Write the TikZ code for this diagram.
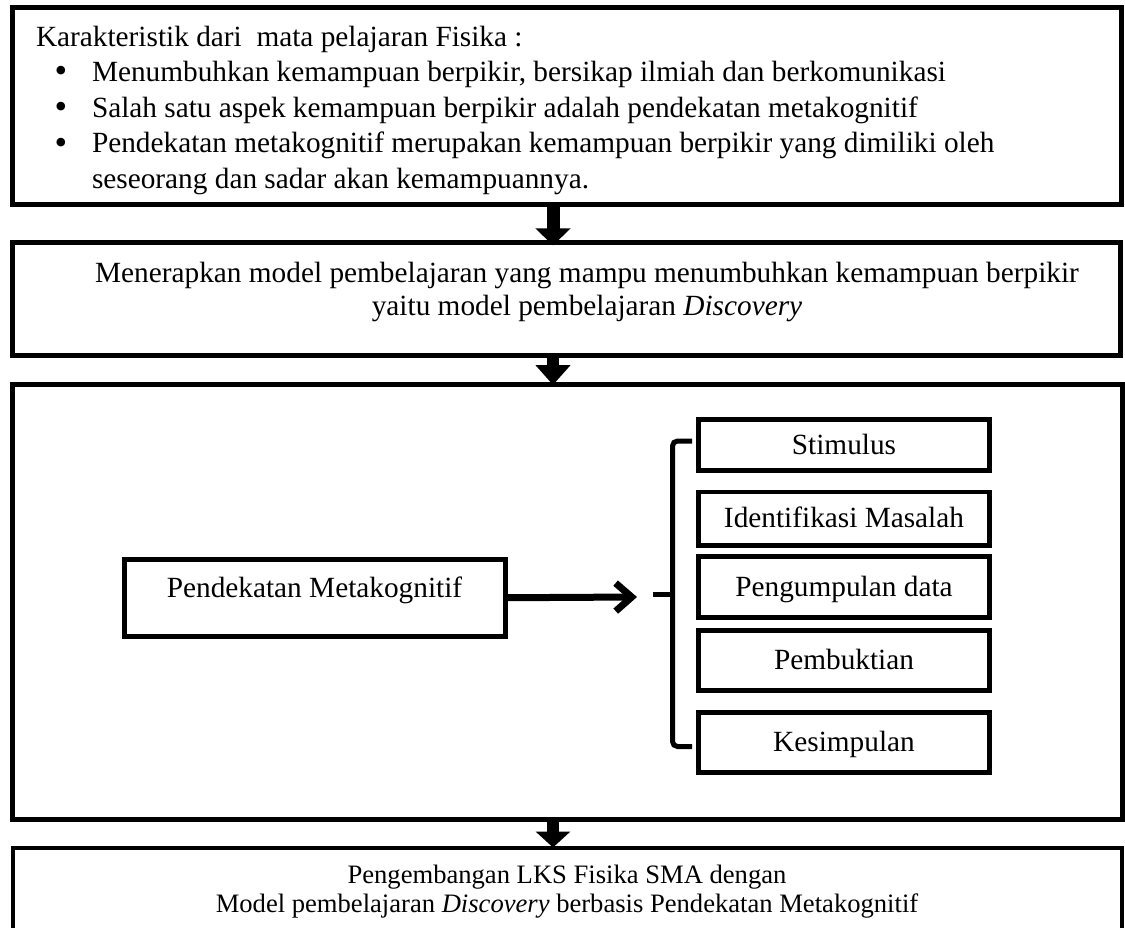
\documentclass[tikz,border=0pt]{standalone}
\usepackage{fontspec}
\setmainfont{Liberation Serif}
\usetikzlibrary{arrows.meta}
\begin{document}
\begin{tikzpicture}[x=1pt,y=-1pt,
  box/.style={draw, line width=5pt, rectangle, inner sep=0pt, outer sep=0pt},
  smallbox/.style={draw, line width=4.5pt, rectangle, minimum width=291pt, inner sep=0pt, outer sep=0pt, text height=20pt, text depth=2pt},
  txt/.style={inner sep=0pt, outer sep=0pt},
  bul/.style={inner sep=0pt, outer sep=0pt, anchor=base, text height=14pt, text depth=0pt, font=\fontsize{36}{36}\selectfont},
  flow/.style={line width=13pt, -{Triangle[width=34pt,length=17pt]}},
  bigfont/.style={font=\fontsize{29.3}{33}\selectfont},
  smallfont/.style={font=\fontsize{26.6}{30}\selectfont},
  bigfont]
\useasboundingbox (0,0) rectangle (1125,928);
\clip (0,0) rectangle (1125,928);

% main boxes
\node[box, minimum width=1108.5pt, minimum height=197.5pt] (b1) at (566.75,106.25) {};
\node[box, minimum width=1107.5pt, minimum height=113pt] (b2) at (566.25,299) {};
\node[box, minimum width=1109.5pt, minimum height=435.5pt] (b3) at (567.25,601.75) {};
\node[box, line width=4pt, minimum width=1109.5pt, minimum height=87.5pt] (b4) at (567.25,891.25) {};

% box 1 text
\node[txt, anchor=base west] (t0) at (36,47) {Karakteristik dari\ \ mata pelajaran Fisika :};
\node[bul] (u1) at (61,83) {•};
\node[bul] (u2) at (61,119) {•};
\node[bul] (u3) at (61,155) {•};
\node[txt, anchor=base west] (t1) at (92,82) {Menumbuhkan kemampuan berpikir, bersikap ilmiah dan berkomunikasi};
\node[txt, anchor=base west] (t2) at (92,118) {Salah satu aspek kemampuan berpikir adalah pendekatan metakognitif};
\node[txt, anchor=base west] (t3) at (92,153) {Pendekatan metakognitif merupakan kemampuan berpikir yang dimiliki oleh};
\node[txt, anchor=base west] (t4) at (92,189) {seseorang dan sadar akan kemampuannya.};

% box 2 text
\node[txt, anchor=base] (m1) at (587,283) {Menerapkan model pembelajaran yang mampu menumbuhkan kemampuan berpikir};
\node[txt, anchor=base] (m2) at (587,315) {yaitu model pembelajaran \textit{Discovery}};

% box 3 content
\node[box, minimum width=381pt, minimum height=76.5pt, text height=20pt, text depth=21.5pt] (pk) at (314.5,597.75) {Pendekatan Metakognitif};
\node[smallbox, minimum height=51pt] (s1) at (844,445) {Stimulus};
\node[smallbox, minimum height=53.5pt] (s2) at (844,518.75) {Identifikasi Masalah};
\node[smallbox, minimum height=61pt] (s3) at (844,587) {Pengumpulan data};
\node[smallbox, minimum height=60pt] (s4) at (844,660.5) {Pembuktian};
\node[smallbox, minimum height=60pt] (s5) at (844,742.5) {Kesimpulan};

\coordinate (tip) at (637,597);
\coordinate (brTop) at (692,441);
\coordinate (brBot) at (692,746.5);
\coordinate (brMid) at (672.5,594.5);
\coordinate (brTick) at (653,594.5);

\draw[line width=7pt, -{Straight Barb[length=16pt,width=28pt]}] (pk.east) -- (tip);
\draw[line width=5pt, rounded corners=5pt] (brTop) -- (brMid |- brTop) -- (brMid |- brBot) -- (brBot);
\draw[line width=5pt] (brTick) -- (brMid);

% box 4 text
\node[txt, smallfont, anchor=base] (f1) at (567,883) {Pengembangan LKS Fisika SMA dengan};
\node[txt, smallfont, anchor=base] (f2) at (567,912) {Model pembelajaran \textit{Discovery} berbasis Pendekatan Metakognitif};

% flow arrows
\draw[flow, shorten >=-3pt] (b1.south -| 553,0) -- (b2.north -| 553,0);
\draw[flow, line width=12pt, -{Triangle[width=34pt,length=20pt]}, shorten >=-1pt] (b2.south -| 553,0) -- (b3.north -| 553,0);
\draw[flow, line width=12pt, -{Triangle[width=34pt,length=16pt]}] (b3.south -| 553,0) -- (b4.north -| 553,0);
\end{tikzpicture}
\end{document}
